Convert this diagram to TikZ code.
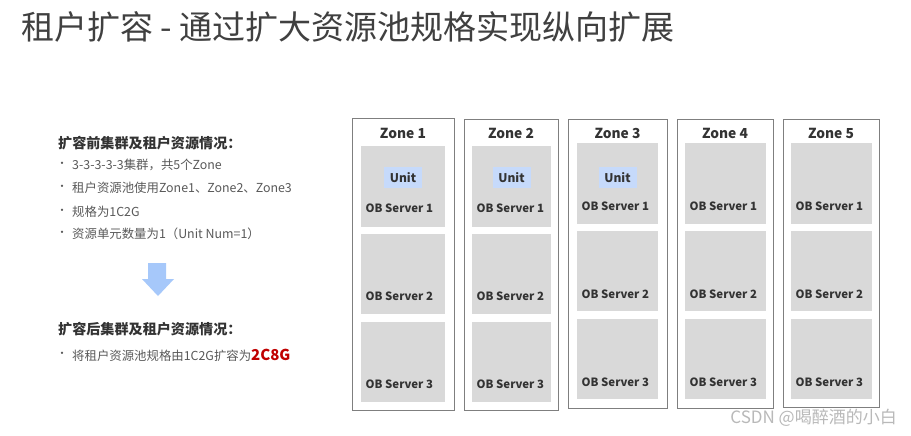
\documentclass[tikz,border=0pt]{standalone}
\usepackage{fontspec}
\setmainfont{Noto Sans CJK SC}
\definecolor{titlec}{HTML}{404040}
\definecolor{headc}{HTML}{333333}
\definecolor{bodyc}{HTML}{595959}
\definecolor{zoneline}{HTML}{7F7F7F}
\definecolor{srvgray}{HTML}{D9D9D9}
\definecolor{unitblue}{HTML}{C6DAFB}
\definecolor{arrowblue}{HTML}{A6C8FA}
\definecolor{redc}{HTML}{C00000}
\begin{document}
\begin{tikzpicture}[x=1pt,y=-1pt,
  zonebox/.style={draw=zoneline, line width=1.2pt, inner sep=0pt, anchor=north west},
  srvbox/.style={fill=srvgray, inner sep=0pt, anchor=north west},
  unitbox/.style={fill=unitblue, inner sep=0pt, minimum width=38pt, minimum height=21pt,
    font=\bfseries\fontsize{12}{13}\selectfont, text=headc},
  zonelbl/.style={font=\bfseries\fontsize{13.8}{15}\selectfont, text=headc, inner sep=0pt},
  srvlbl/.style={font=\bfseries\fontsize{11.4}{13}\selectfont, text=headc, inner sep=0pt, anchor=west},
  headtxt/.style={font=\bfseries\fontsize{14.1}{16}\selectfont, text=headc, inner sep=0pt, anchor=west},
  bodytxt/.style={font=\fontsize{12.4}{14}\selectfont, text=bodyc, inner sep=0pt, anchor=west},
  bulletdot/.style={font=\fontsize{11}{12}\selectfont, text=bodyc, inner sep=0pt},
]
\useasboundingbox[fill=white] (0,0) rectangle (911,436);

% title
\node[font=\fontsize{33}{38}\selectfont, text=titlec, inner sep=0pt, anchor=west] (title) at (21,27)
  {租户扩容 - 通过扩大资源池规格实现纵向扩展};

% left text
\node[headtxt] (h1) at (58,143) {扩容前集群及租户资源情况：};
\node[bulletdot] (d1) at (62,165) {•};
\node[bodytxt] (t1) at (72,165) {3-3-3-3-3集群，共5个Zone};
\node[bulletdot] (d2) at (62,188) {•};
\node[bodytxt] (t2) at (72,188) {租户资源池使用Zone1、Zone2、Zone3};
\node[bulletdot] (d3) at (62,212) {•};
\node[bodytxt] (t3) at (72,212) {规格为1C2G};
\node[bulletdot] (d4) at (62,234) {•};
\node[bodytxt] (t4) at (72,234) {资源单元数量为1（Unit Num=1）};

\fill[arrowblue] (148,263) -- (166,263) -- (166,279) -- (174,279) -- (158,296) -- (142,279) -- (148,279) -- cycle;

\node[headtxt] (h2) at (58,329) {扩容后集群及租户资源情况：};
\node[bulletdot] (d5) at (62,355) {•};
\node[bodytxt] (t5) at (72,355) {将租户资源池规格由1C2G扩容为{\bfseries\fontsize{15}{16}\selectfont\color{redc}2C8G}};

% zones
\foreach \n/\l/\r/\t/\b/\gl/\gr/\gy in
  {1/352/454/118/410/361/445/0,
   2/464/558/119/410/472/551/0,
   3/568/667/119/408/577/658/-3,
   4/677/773/119/408/685/766/-3,
   5/783/879/119/407/791/872/-3}{
  \node[zonebox, minimum width={\r pt-\l pt}, minimum height={\b pt-\t pt}] (z\n) at (\l,\t) {};
  \node[zonelbl] (zl\n) at ({(\l+\r)/2},133) {Zone \n};
  \node[srvbox, minimum width={\gr pt-\gl pt}, minimum height=81pt] (sa\n) at (\gl,{146+\gy}) {};
  \node[srvbox, minimum width={\gr pt-\gl pt}, minimum height=80pt] (sb\n) at (\gl,{234+\gy}) {};
  \node[srvbox, minimum width={\gr pt-\gl pt}, minimum height=80pt] (sc\n) at (\gl,{322+\gy}) {};
  \node[srvlbl] (la\n) at ({\gl+4.5},{208+\gy*0.7}) {OB Server 1};
  \node[srvlbl] (lb\n) at ({\gl+4.5},{296+\gy*0.7}) {OB Server 2};
  \node[srvlbl] (lc\n) at ({\gl+4.5},{384+\gy*0.7}) {OB Server 3};
}
\node[unitbox] (u1) at (403,177.5) {Unit};
\node[unitbox] (u2) at (511.5,177.5) {Unit};
\node[unitbox] (u3) at (617.5,177.5) {Unit};

% watermark
\node[font=\fontsize{17}{20}\selectfont, text=gray!55, inner sep=0pt, anchor=east] (wm) at (897,418) {CSDN @喝醉酒的小白};
\end{tikzpicture}
\end{document}
